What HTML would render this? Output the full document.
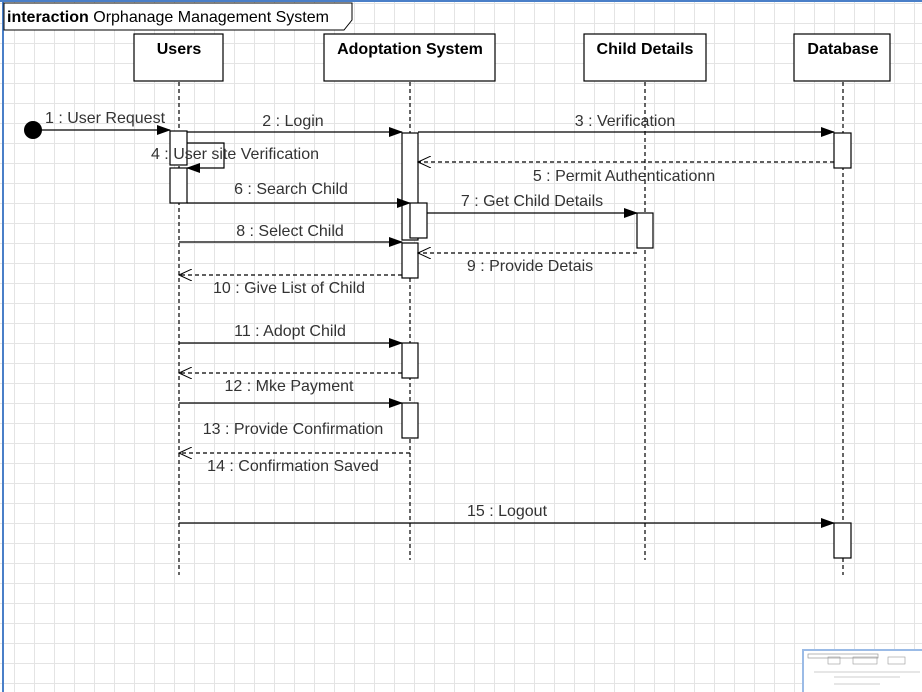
<!DOCTYPE html>
<html><head><style>
html,body{margin:0;padding:0;background:#fff;}
body{width:922px;height:692px;overflow:hidden;position:relative;
background-image:linear-gradient(#e4e4e4 1px,transparent 1px),linear-gradient(90deg,#e4e4e4 1px,transparent 1px);
background-size:20px 20px,20px 20px;background-position:14px 3px,14px 3px;}
svg{position:absolute;left:0;top:0;}
text{font-family:"Liberation Sans",sans-serif;font-size:16px;fill:#333;}
</style></head><body>
<svg width="922" height="692" viewBox="0 0 922 692">
<defs>
<marker id="f" markerWidth="14" markerHeight="10" refX="13" refY="5" orient="auto" markerUnits="userSpaceOnUse"><path d="M0,0 L14,5 L0,10 Z" fill="#000"/></marker>
<marker id="o" markerWidth="14" markerHeight="12" refX="13" refY="6" orient="auto" markerUnits="userSpaceOnUse"><path d="M0,0 L13,6 L0,12" fill="none" stroke="#000" stroke-width="1"/></marker>
</defs>
<line x1="3" y1="0" x2="3" y2="692" stroke="#4a7fc8" stroke-width="2"/>
<line x1="0" y1="1" x2="922" y2="1" stroke="#4a7fc8" stroke-width="2"/>
<path d="M4,3 H352 V20 L344,30 H4 Z" fill="#fff" stroke="#000"/>
<text x="7" y="22" style="font-size:16px;fill:#000"><tspan font-weight="bold">interaction</tspan> Orphanage Management System</text>
<g stroke="#000" stroke-dasharray="4,3" stroke-width="1.2">
<line x1="179" y1="82" x2="179" y2="575"/><line x1="410" y1="82" x2="410" y2="560"/>
<line x1="645" y1="82" x2="645" y2="560"/><line x1="843" y1="82" x2="843" y2="575"/>
</g>
<g fill="#fff" stroke="#000" stroke-width="1.2">
<rect x="134" y="34" width="89" height="47"/><rect x="324" y="34" width="171" height="47"/>
<rect x="584" y="34" width="122" height="47"/><rect x="794" y="34" width="96" height="47"/>
</g>
<g style="font-weight:bold;font-size:16px" text-anchor="middle">
<text x="179" y="54" style="fill:#000">Users</text><text x="410" y="54" style="fill:#000">Adoptation System</text>
<text x="645" y="54" style="fill:#000">Child Details</text><text x="843" y="54" style="fill:#000">Database</text>
</g>
<g fill="#fff" stroke="#000" stroke-width="1.2">
<rect x="170" y="131" width="17" height="34"/><rect x="170" y="168" width="17" height="35"/>
<rect x="402" y="133" width="16" height="107"/><rect x="410" y="203" width="17" height="35"/>
<rect x="402" y="243" width="16" height="35"/><rect x="402" y="343" width="16" height="35"/>
<rect x="402" y="403" width="16" height="35"/><rect x="637" y="213" width="16" height="35"/>
<rect x="834" y="133" width="17" height="35"/><rect x="834" y="523" width="17" height="35"/>
</g>
<circle cx="33" cy="130" r="9" fill="#000"/>
<g stroke="#000" stroke-width="1.2" fill="none">
<line x1="33" y1="130" x2="170" y2="130" marker-end="url(#f)"/>
<line x1="187" y1="132" x2="402" y2="132" marker-end="url(#f)"/>
<line x1="418" y1="132" x2="834" y2="132" marker-end="url(#f)"/>
<path d="M187,143 H224 V168 H187" marker-end="url(#f)"/>
<line x1="834" y1="162" x2="418" y2="162" stroke-dasharray="4,3" marker-end="url(#o)"/>
<line x1="187" y1="203" x2="410" y2="203" marker-end="url(#f)"/>
<line x1="427" y1="213" x2="637" y2="213" marker-end="url(#f)"/>
<line x1="179" y1="242" x2="402" y2="242" marker-end="url(#f)"/>
<line x1="637" y1="253" x2="418" y2="253" stroke-dasharray="4,3" marker-end="url(#o)"/>
<line x1="402" y1="275" x2="179" y2="275" stroke-dasharray="4,3" marker-end="url(#o)"/>
<line x1="179" y1="343" x2="402" y2="343" marker-end="url(#f)"/>
<line x1="402" y1="373" x2="179" y2="373" stroke-dasharray="4,3" marker-end="url(#o)"/>
<line x1="179" y1="403" x2="402" y2="403" marker-end="url(#f)"/>
<line x1="410" y1="453" x2="179" y2="453" stroke-dasharray="4,3" marker-end="url(#o)"/>
<line x1="179" y1="523" x2="834" y2="523" marker-end="url(#f)"/>
</g>
<g text-anchor="middle">
<text x="105" y="123">1 : User Request</text>
<text x="293" y="126">2 : Login</text>
<text x="625" y="126">3 : Verification</text>
<text x="235" y="159">4 : User site Verification</text>
<text x="624" y="181">5 : Permit Authenticationn</text>
<text x="291" y="194">6 : Search Child</text>
<text x="532" y="206">7 : Get Child Details</text>
<text x="290" y="236">8 : Select Child</text>
<text x="530" y="271">9 : Provide Detais</text>
<text x="289" y="293">10 : Give List of Child</text>
<text x="290" y="336">11 : Adopt Child</text>
<text x="289" y="391">12 : Mke Payment</text>
<text x="293" y="434">13 : Provide Confirmation</text>
<text x="293" y="471">14 : Confirmation Saved</text>
<text x="507" y="516">15 : Logout</text>
</g>
<rect x="803" y="650" width="122" height="45" fill="#fff" stroke="#9bbbe6" stroke-width="2"/>
<rect x="808" y="654" width="70" height="4" fill="none" stroke="#888" stroke-width="0.6"/>
<g fill="none" stroke="#999" stroke-width="0.6">
<rect x="828" y="657" width="12" height="7"/><rect x="853" y="657" width="24" height="7"/><rect x="888" y="657" width="17" height="7"/>
<line x1="814" y1="672" x2="920" y2="672"/><line x1="834" y1="677" x2="900" y2="677"/><line x1="834" y1="684" x2="880" y2="684"/>
</g>
</svg>
</body></html>
